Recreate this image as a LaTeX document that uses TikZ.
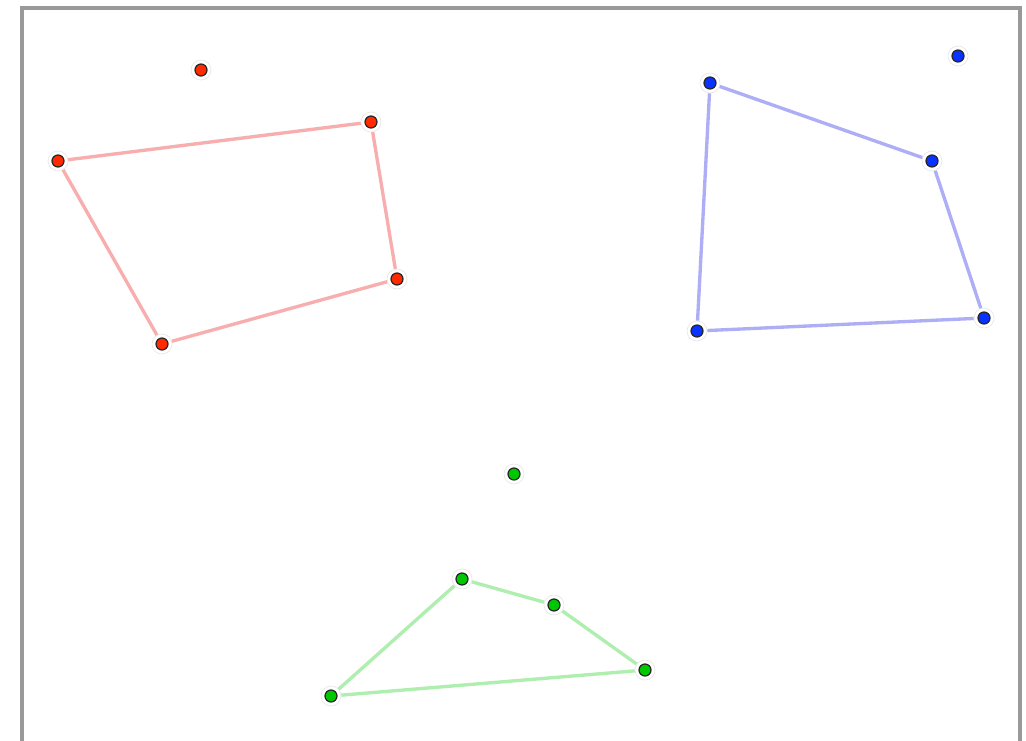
\documentclass[tikz,border=0pt]{standalone}
\usetikzlibrary{positioning}
\definecolor{ptred}{HTML}{FF2A00}
\definecolor{ptblue}{HTML}{0A32FF}
\definecolor{ptgreen}{HTML}{00C800}
\definecolor{edred}{HTML}{F8AEAE}
\definecolor{edblue}{HTML}{AEAEF6}
\definecolor{edgreen}{HTML}{AEEEAE}
\tikzset{
  pt/.style={circle,inner sep=0pt,minimum size=0.40cm,fill=white,draw=gray!18,line width=0.4pt,
    path picture={\fill[#1,draw=black!85,line width=0.7pt] (path picture bounding box.center) circle (0.12cm);}},
  edge/.style={line width=1.9pt,#1}
}
\begin{document}
\begin{tikzpicture}[x=0.02cm,y=-0.02cm]
  \useasboundingbox (0,0) rectangle (1026,740);
  \fill[white] (0,0) rectangle (1026,740);
  \draw[gray!80,line width=2pt] (22,745)--(22,8)--(1020,8)--(1020,745);
  % red group
  \node[pt=ptred] (r0) at (201,70) {};
  \node[pt=ptred] (r1) at (58,161) {};
  \node[pt=ptred] (r2) at (371,122) {};
  \node[pt=ptred] (r3) at (397,279) {};
  \node[pt=ptred] (r4) at (162,344) {};
  \draw[edge=edred] (r1)--(r2)--(r3)--(r4)--(r1);
  % blue group
  \node[pt=ptblue] (b0) at (958,56) {};
  \node[pt=ptblue] (b1) at (710,83) {};
  \node[pt=ptblue] (b2) at (932,161) {};
  \node[pt=ptblue] (b3) at (984,318) {};
  \node[pt=ptblue] (b4) at (697,331) {};
  \draw[edge=edblue] (b1)--(b2)--(b3)--(b4)--(b1);
  % green group
  \node[pt=ptgreen] (g0) at (514,474) {};
  \node[pt=ptgreen] (g1) at (462,579) {};
  \node[pt=ptgreen] (g2) at (554,605) {};
  \node[pt=ptgreen] (g3) at (645,670) {};
  \node[pt=ptgreen] (g4) at (331,696) {};
  \draw[edge=edgreen] (g1)--(g2)--(g3)--(g4)--(g1);
\end{tikzpicture}
\end{document}
